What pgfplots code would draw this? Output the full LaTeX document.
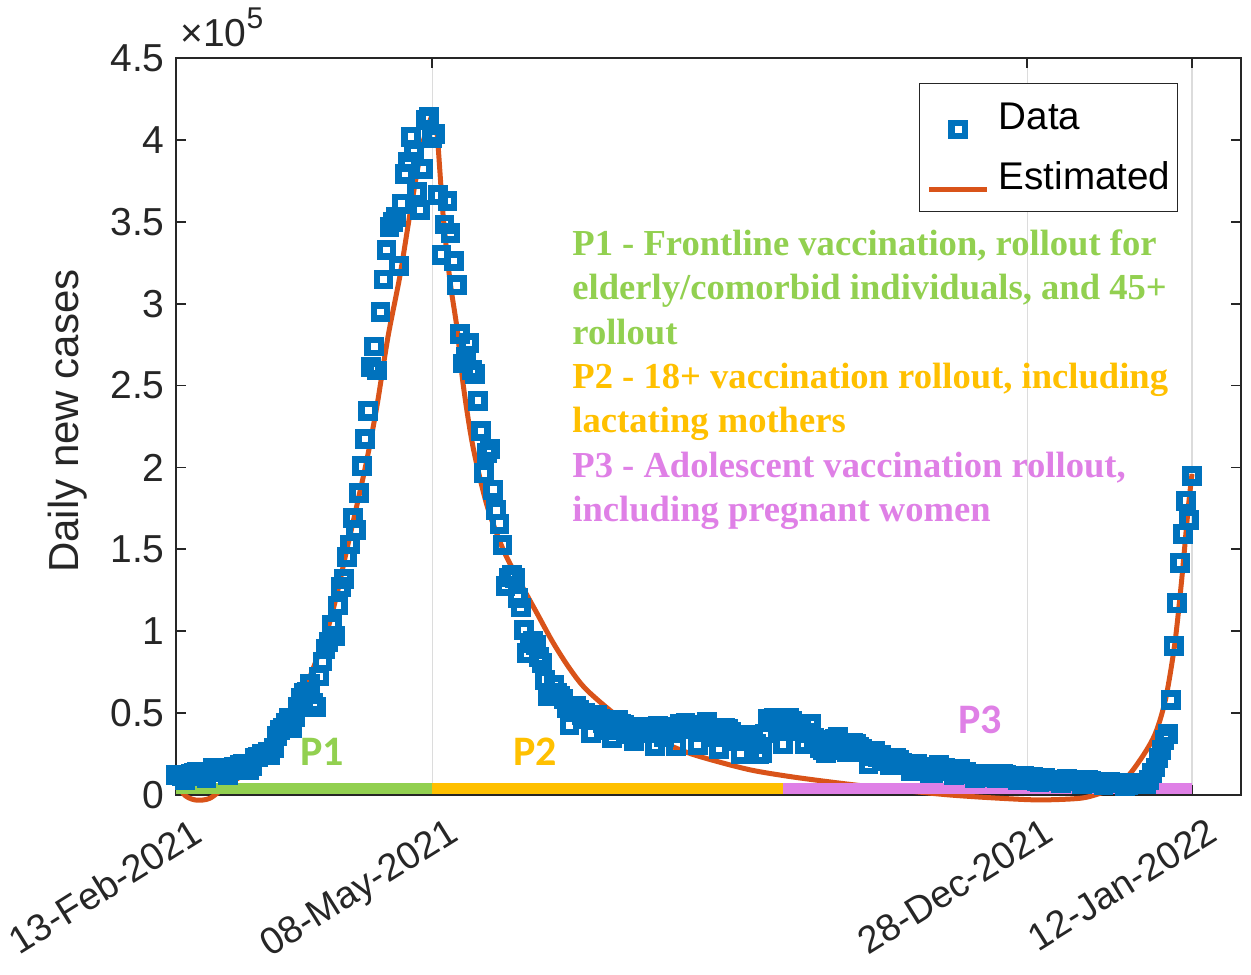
\documentclass[border=0pt]{standalone}
\usepackage{fontspec}
\setmainfont{Liberation Sans}
\newfontfamily\serifb{Liberation Serif}
\newfontfamily\calib{Carlito}
\usepackage{pgfplots}
\pgfplotsset{compat=1.18}
\definecolor{mblue}{HTML}{0072BD}
\definecolor{morange}{HTML}{D95319}
\definecolor{pgreen}{HTML}{92D050}
\definecolor{porange}{HTML}{FFC000}
\definecolor{pviolet}{HTML}{DF80E6}
\definecolor{axgray}{HTML}{262626}
\definecolor{gridgray}{HTML}{DCDCDC}
\begin{document}
\begin{tikzpicture}
\useasboundingbox (-88bp,-90bp) rectangle (537.5bp,397.5bp);
\begin{axis}[
  scale only axis, width=532.5bp, height=368.5bp,
  xmin=0, xmax=349.06, ymin=0, ymax=4.5,
  clip=false,
  axis line style={axgray, line width=0.9bp},
  every tick/.style={axgray, line width=0.9bp},
  tick align=inside, major tick length=5bp,
  xtick={0,84,279,333},
  xticklabels={13-Feb-2021,08-May-2021,28-Dec-2021,12-Jan-2022},
  ytick={0,0.5,1,1.5,2,2.5,3,3.5,4,4.5},
  yticklabels={0,0.5,1,1.5,2,2.5,3,3.5,4,4.5},
  scaled ticks=false,
  xmajorgrids, major grid style={gridgray, line width=0.6bp},
  ticklabel style={font=\fontsize{19.5bp}{19.5bp}\selectfont, text=axgray},
  xticklabel style={font=\fontsize{19bp}{19bp}\selectfont, xshift=7bp, yshift=-10.5bp, rotate=32, anchor=north east, inner sep=0pt},
  yticklabel style={anchor=east, inner sep=0pt, xshift=-5.5bp},
  ylabel={Daily new cases},
  ylabel style={at={(axis description cs:-0.1014,0.5075)}, anchor=center, font=\fontsize{21bp}{21bp}\selectfont, text=axgray, inner sep=0pt},
  legend image code/.code={\draw[mark repeat=2,mark phase=2,#1] plot coordinates {(0bp,0bp) (14.5bp,0bp) (29bp,0bp)};},
  legend style={at={(axis description cs:0.9408,0.966)}, anchor=north east,
    draw=axgray, line width=0.5bp, fill=white,
    inner xsep=3.5bp, inner ysep=6bp, row sep=8bp, column sep=4.5bp,
    font=\fontsize{19.3bp}{19.3bp}\selectfont,
    nodes={inner xsep=0pt, inner ysep=0pt, text height=17bp, text depth=5bp, anchor=base west}},
  legend cell align=left,
]
\addplot[only marks, mark=square, mark size=3.3bp, line width=3.3bp, mblue, mark options={solid, mblue, line width=3.3bp}] coordinates {
(0,0.121)(1,0.122)(2,0.116)(3,0.091)(4,0.116)(5,0.129)(6,0.132)(7,0.140)(8,0.143)(9,0.142)(10,0.106)(11,0.137)(12,0.167)(13,0.166)(14,0.165)(15,0.168)
(16,0.155)(17,0.123)(18,0.150)(19,0.174)(20,0.168)(21,0.183)(22,0.187)(23,0.186)(24,0.154)(25,0.179)(26,0.229)(27,0.233)(28,0.249)(29,0.253)(30,0.263)(31,0.245)(32,0.289)(33,0.359)(34,0.397)(35,0.410)(36,0.438)(37,0.470)(38,0.407)(39,0.473)(40,0.535)(41,0.591)(42,0.623)(43,0.627)(44,0.680)(45,0.562)(46,0.535)
(47,0.723)(48,0.815)(49,0.891)(50,0.932)(51,1.036)(52,0.970)(53,1.157)(54,1.268)(55,1.320)(56,1.454)(57,1.529)(58,1.689)(59,1.617)(60,1.844)(61,2.007)(62,2.174)(63,2.347)(64,2.615)(65,2.738)(66,2.592)(67,2.950)(68,3.148)(69,3.327)(70,3.468)(71,3.497)(72,3.530)(73,3.231)(74,3.610)(75,3.793)(76,3.865)
(77,4.020)(78,3.925)(79,3.681)(80,3.572)(81,3.823)(82,4.123)(83,4.142)(84,4.011)(85,4.037)(86,3.662)(87,3.299)(88,3.484)(89,3.627)(90,3.431)(91,3.261)(92,3.112)(93,2.814)(94,2.635)(95,2.673)(96,2.761)(97,2.596)(98,2.573)(99,2.408)(100,2.223)(101,1.964)(102,2.089)(103,2.113)(104,1.864)(105,1.738)(106,1.656)(107,1.527)
(108,1.275)(109,1.328)(110,1.342)(111,1.324)(112,1.205)(113,1.145)(114,1.006)(115,0.865)(116,0.926)(117,0.941)(118,0.917)(119,0.843)(120,0.808)(121,0.704)(122,0.605)(123,0.622)(124,0.672)(125,0.625)(126,0.608)(127,0.584)(128,0.533)(129,0.426)(130,0.508)(131,0.541)(132,0.517)(133,0.487)(134,0.500)(135,0.461)(136,0.376)(137,0.460)
(138,0.488)(139,0.466)(140,0.441)(141,0.431)(142,0.398)(143,0.347)(144,0.437)(145,0.459)(146,0.434)(147,0.428)(148,0.415)(149,0.372)(150,0.329)(151,0.388)(152,0.418)(153,0.389)(154,0.381)(155,0.412)(156,0.382)(157,0.301)(158,0.420)(159,0.414)(160,0.353)(161,0.391)(162,0.397)(163,0.394)(164,0.297)(165,0.437)(166,0.435)(167,0.442)(168,0.416)
(169,0.418)(170,0.401)(171,0.305)(172,0.426)(173,0.430)(174,0.446)(175,0.386)(176,0.391)(177,0.355)(178,0.282)(179,0.384)(180,0.412)(181,0.401)(182,0.387)(183,0.361)(184,0.329)(185,0.252)(186,0.352)(187,0.364)(188,0.366)(189,0.345)(190,0.309)(191,0.251)(192,0.255)(193,0.376)(194,0.462)(195,0.447)(196,0.468)(197,0.451)(198,0.429)(199,0.309)
(200,0.420)(201,0.471)(202,0.454)(203,0.426)(204,0.428)(205,0.389)(206,0.312)(207,0.379)(208,0.433)(209,0.350)(210,0.334)(211,0.286)(212,0.273)(213,0.254)(214,0.272)(215,0.306)(216,0.344)(217,0.357)(218,0.308)(219,0.303)(220,0.261)(221,0.270)(222,0.319)(223,0.314)(224,0.296)(225,0.283)(226,0.260)(227,0.188)(228,0.235)(229,0.267)
(230,0.234)(231,0.244)(232,0.228)(233,0.208)(234,0.183)(235,0.188)(236,0.224)(237,0.213)(238,0.197)(239,0.182)(240,0.181)(241,0.143)(242,0.158)(243,0.190)(244,0.169)(245,0.160)(246,0.157)(247,0.136)(248,0.131)(249,0.146)(250,0.185)(251,0.158)(252,0.163)(253,0.159)(254,0.143)(255,0.124)(256,0.135)(257,0.162)(258,0.143)(259,0.143)(260,0.128)
(261,0.125)(262,0.104)(263,0.119)(264,0.129)(265,0.127)(266,0.109)(267,0.108)(268,0.115)(269,0.101)(270,0.115)(271,0.131)(272,0.125)(273,0.118)(274,0.113)(275,0.102)(276,0.089)(277,0.102)(278,0.119)(279,0.111)(280,0.103)(281,0.111)(282,0.085)(283,0.076)(284,0.093)(285,0.105)(286,0.091)(287,0.083)(288,0.088)(289,0.083)(290,0.070)
(291,0.089)(292,0.098)(293,0.092)(294,0.086)(295,0.083)(296,0.089)(297,0.068)(298,0.084)(299,0.094)(300,0.085)(301,0.080)(302,0.078)(303,0.074)(304,0.058)(305,0.070)(306,0.080)(307,0.074)(308,0.071)(309,0.071)(310,0.071)(311,0.053)(312,0.063)(313,0.075)(314,0.067)(315,0.072)(316,0.070)(317,0.065)(318,0.064)(319,0.092)(320,0.132)(321,0.168)
(322,0.228)(323,0.276)(324,0.338)(325,0.374)(326,0.581)(327,0.909)(328,1.171)(329,1.419)(330,1.596)(331,1.797)(332,1.681)(333,1.947)
};
\addlegendentry{Data}
\addplot[morange, line width=2.5bp, line join=round, smooth, tension=0.5] coordinates {
(0,0.13)(2.3,0.01)(6.2,-0.03)(11.1,-0.02)(16.7,0.06)(21,0.11)(25.2,0.17)(30.8,0.27)(36.4,0.40)(40.6,0.57)(44.9,0.77)(49.5,1.0)(52.8,1.23)(56.0,1.5)(59.3,1.77)(62.6,2.05)(65.9,2.38)(69.5,2.8)(73.4,3.17)(76.7,3.55)(80.6,3.96)(83.9,4.15)
};
\addlegendentry{Estimated}
\addplot[morange, line width=2.5bp, line join=round, smooth, tension=0.5, forget plot] coordinates {
(83.9,4.15)(85.5,4.05)(87.5,3.55)(89.8,3.14)(92.1,2.85)(94.1,2.51)(97.3,2.13)(101.9,1.77)(107.2,1.50)(112.7,1.30)(118.3,1.11)(123.6,0.93)(129.1,0.77)(134.7,0.64)(145.5,0.47)(156.3,0.35)(167.5,0.26)(178.3,0.2)(189.1,0.15)(202.2,0.11)(218.6,0.07)(237.3,0.03)(253.7,0.0)(270.1,-0.02)(283.2,-0.03)(296.3,-0.02)(302.8,0.01)(307.8,0.05)(312.7,0.13)(318.3,0.28)(321.5,0.40)(324.5,0.60)(327.4,0.93)(329.7,1.33)(331.7,1.74)(333,1.96)
};
\addplot[pgreen, line width=5.5bp, forget plot] coordinates {(0,0.04) (84,0.04)};
\addplot[porange, line width=5.5bp, forget plot] coordinates {(84,0.04) (199,0.04)};
\addplot[pviolet, line width=5.5bp, forget plot] coordinates {(199,0.04) (333,0.04)};
\node[anchor=base west, inner sep=0pt, xshift=2bp, yshift=6bp, text=axgray, font=\fontsize{19.5bp}{19.5bp}\selectfont] at (rel axis cs:0,1) {×10\raisebox{9bp}{\fontsize{15bp}{15bp}\selectfont 5}};
\begin{scope}[every node/.style={anchor=base west, inner sep=0pt, font=\serifb\bfseries\fontsize{18.3bp}{22bp}\selectfont}]
\node[text=pgreen] at (axis cs:129.8,3.293) {P1 - Frontline vaccination, rollout for};
\node[text=pgreen] at (axis cs:129.8,3.024) {elderly/comorbid individuals, and 45+};
\node[text=pgreen] at (axis cs:129.8,2.750) {rollout};
\node[text=porange] at (axis cs:129.8,2.482) {P2 - 18+ vaccination rollout, including};
\node[text=porange] at (axis cs:129.8,2.213) {lactating mothers};
\node[text=pviolet] at (axis cs:129.8,1.939) {P3 - Adolescent vaccination rollout,};
\node[text=pviolet] at (axis cs:129.8,1.671) {including pregnant women};
\end{scope}
\begin{scope}[every node/.style={anchor=center, inner sep=0pt, font=\calib\bfseries\fontsize{21bp}{21bp}\selectfont}]
\node[text=pgreen] at (axis cs:47.9,0.262) {P1};
\node[text=porange] at (axis cs:117.7,0.262) {P2};
\node[text=pviolet] at (axis cs:263.5,0.457) {P3};
\end{scope}
\end{axis}
\end{tikzpicture}
\end{document}
